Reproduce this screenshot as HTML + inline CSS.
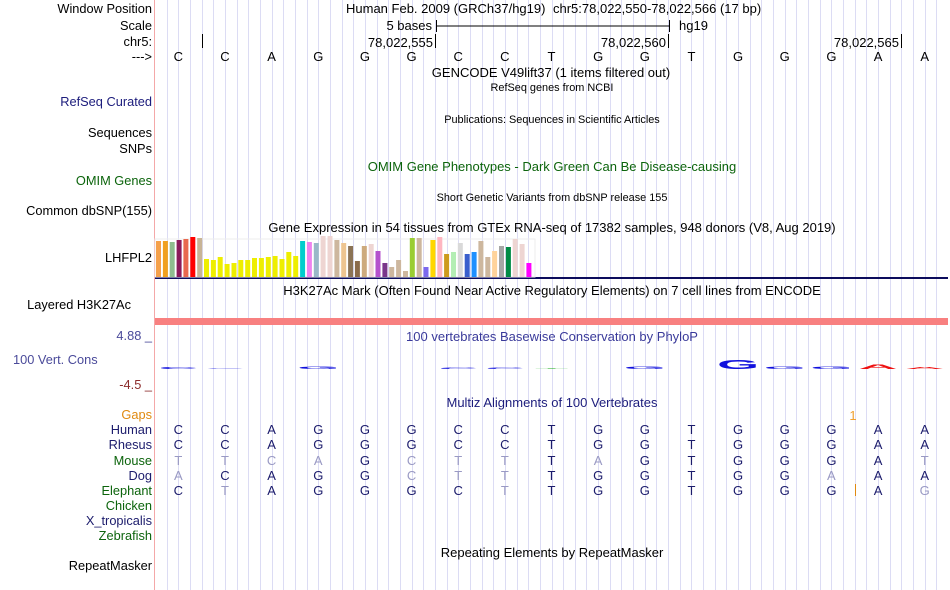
<!DOCTYPE html>
<html><head><meta charset="utf-8">
<style>
html,body{margin:0;padding:0;background:#fff;}
svg{display:block;font-family:"Liberation Sans",Arial,sans-serif;}
</style></head>
<body>
<svg id="c" width="950" height="590" viewBox="0 0 950 590" xmlns="http://www.w3.org/2000/svg">
<g id="grid"></g>
<line x1="154.5" y1="0" x2="154.5" y2="590" stroke="#f4a8a8" stroke-width="1"/>
<g font-size="12.8" fill="#000" text-anchor="end">
<text x="152" y="13">Window Position</text>
<text x="152" y="30">Scale</text>
<text x="152" y="46">chr5:</text>
<text x="152" y="61">---&gt;</text>
<text x="152" y="106" fill="#1c1c7c">RefSeq Curated</text>
<text x="152" y="137">Sequences</text>
<text x="152" y="153">SNPs</text>
<text x="152" y="185" fill="#0c640c">OMIM Genes</text>
<text x="152" y="215">Common dbSNP(155)</text>
<text x="152" y="262">LHFPL2</text>
<text x="131" y="309">Layered H3K27Ac</text>
<text x="152" y="340" fill="#4a4a9a">4.88 _</text>
<text x="13" y="364" text-anchor="start" fill="#4a4a9a">100 Vert. Cons</text>
<text x="152" y="389" fill="#8c2c2c">-4.5 _</text>
<text x="152" y="419" fill="#e08a10">Gaps</text>
<text x="152" y="434" fill="#1c1c6c">Human</text>
<text x="152" y="449" fill="#1c1c6c">Rhesus</text>
<text x="152" y="465" fill="#0c640c">Mouse</text>
<text x="152" y="480" fill="#1c1c6c">Dog</text>
<text x="152" y="495" fill="#0c640c">Elephant</text>
<text x="152" y="510" fill="#0c640c">Chicken</text>
<text x="152" y="525" fill="#1c1c6c">X_tropicalis</text>
<text x="152" y="540" fill="#0c640c">Zebrafish</text>
<text x="152" y="570">RepeatMasker</text>
</g>
<g font-size="13" fill="#000">
<text x="346" y="13">Human Feb. 2009 (GRCh37/hg19)</text>
<text x="553" y="13">chr5:78,022,550-78,022,566 (17 bp)</text>
<text x="432" y="30" text-anchor="end">5 bases</text>
<line x1="436" y1="26" x2="669" y2="26" stroke="#000"/>
<line x1="436.5" y1="20" x2="436.5" y2="32" stroke="#000"/>
<line x1="669.5" y1="20" x2="669.5" y2="32" stroke="#000"/>
<text x="679" y="30">hg19</text>
<line x1="202.5" y1="34" x2="202.5" y2="48" stroke="#000"/>
<text x="433" y="47" text-anchor="end">78,022,555</text>
<line x1="435.5" y1="34" x2="435.5" y2="48" stroke="#000"/>
<text x="666" y="47" text-anchor="end">78,022,560</text>
<line x1="668.5" y1="34" x2="668.5" y2="48" stroke="#000"/>
<text x="899" y="47" text-anchor="end">78,022,565</text>
<line x1="901.5" y1="34" x2="901.5" y2="48" stroke="#000"/>
<text x="551" y="77" text-anchor="middle">GENCODE V49lift37 (1 items filtered out)</text>
<text x="552" y="91" text-anchor="middle" font-size="10.9">RefSeq genes from NCBI</text>
<text x="552" y="123" text-anchor="middle" font-size="10.9">Publications: Sequences in Scientific Articles</text>
<text x="552" y="171" text-anchor="middle" fill="#0c640c">OMIM Gene Phenotypes - Dark Green Can Be Disease-causing</text>
<text x="552" y="201" text-anchor="middle" font-size="10.9">Short Genetic Variants from dbSNP release 155</text>
<text x="552" y="232" text-anchor="middle">Gene Expression in 54 tissues from GTEx RNA-seq of 17382 samples, 948 donors (V8, Aug 2019)</text>
<text x="552" y="295" text-anchor="middle">H3K27Ac Mark (Often Found Near Active Regulatory Elements) on 7 cell lines from ENCODE</text>
<text x="552" y="341" text-anchor="middle" fill="#3a3a9a">100 vertebrates Basewise Conservation by PhyloP</text>
<text x="552" y="407" text-anchor="middle" fill="#1c1c7c">Multiz Alignments of 100 Vertebrates</text>
<text x="552" y="557" text-anchor="middle">Repeating Elements by RepeatMasker</text>
<text x="853" y="420" text-anchor="middle" fill="#f0a030">1</text>
<line x1="855.5" y1="484" x2="855.5" y2="496" stroke="#e08a10"/>
</g>
<rect x="155" y="318" width="793" height="7" fill="#f88080"/>
<rect x="155" y="277" width="793" height="2" fill="#0c0c5c"/>
<rect x="155" y="239" width="380" height="38" fill="none" stroke="#eee"/>
<g id="gtex"></g>
<g id="bases" font-size="13" text-anchor="middle"></g>
<g id="cons" text-anchor="middle" font-weight="bold"></g>
</svg>
<script>
const seqHuman = "CCAGGGCCTGGTGGGAA";
const seqRhesus = "CCAGGGCCTGGTGGGAA";
const seqMouse = "TTCAGCTTTAGTGGGAT";
const seqDog = "ACAGGCTTTGGTGGAAA";
const seqElephant = "CTAGGGCTTGGTGGGAG";
const consValues = [0.8,0.3,0,1.2,0,0,0.6,0.5,0.2,0,1.2,0,4.5,1.2,1.2,2,1];
const gtexValues = [36,36,35,37,38,40,39,18,17,20,13,14,17,17,19,19,20,21,18,25,21,36,35,34,41,41,37,34,31,16,31,33,26,14,10,17,6,39,39,10,37,40,23,25,34,23,25,36,20,26,31,30,38,33,14];
const gtexColors = ["#f5a04a","#f0a020","#8fbc8f","#8b1a5a","#e8684e","#ff0000","#c8b496","#eeee00","#eeee00","#eeee00","#eeee00","#eeee00","#eeee00","#eeee00","#eeee00","#eeee00","#eeee00","#eeee00","#eeee00","#eeee00","#eeee00","#00cdcd","#ee82ee","#9ab8c8","#eed5d2","#eed5d2","#cdb79e","#eec591","#8b7355","#8b6b4a","#cdaa7d","#eed5d2","#b452cd","#7a378b","#cdb79e","#cdb79e","#cdb79e","#9acd32","#cdb79e","#7b68ee","#ffd700","#ffb6c1","#cd9b1d","#b4eeb4","#d9d9d9","#3a5fcd","#1e90ff","#cdb79e","#cdb79e","#ffd39b","#a6a6a6","#008b45","#eed5d2","#eed5d2","#ff00ff"];
const NS="http://www.w3.org/2000/svg";
const X0=155, X1=948, nB=17, bw=(X1-X0)/nB;
function bx(i){return X0+bw*(i+0.5);}
function mk(t,a,p){const e=document.createElementNS(NS,t);for(const k in a)e.setAttribute(k,a[k]);p.appendChild(e);return e;}
const g=document.getElementById('grid');
for(let k=1;k<nB*4;k++){const x=Math.round(X0+bw/4*k)+0.5;
 const l=mk('line',{x1:x,y1:0,x2:x,y2:590,stroke:'#dcdcf4','stroke-width':1},g);
 
 }
const gt=document.getElementById('gtex');
const gBase=277, gMax=41, gH=41, pitch=6.86;
function gy(v){return gBase-v/gMax*gH;}
gtexValues.forEach((v,i)=>{
 const r=mk('rect',{x:(X0+1+i*pitch).toFixed(1),y:gy(v).toFixed(1),width:5,height:(gBase-gy(v)).toFixed(1),fill:gtexColors[i]},gt);
 
 
});
const bs=document.getElementById('bases');
const dark="#1c1c6c", light="#9a9ac4";
for(let i=0;i<nB;i++){
 const t=mk('text',{x:bx(i),y:61,fill:'#000'},bs);t.textContent=seqHuman[i];
 
 
}
const rows=[[seqHuman,434],[seqRhesus,449],[seqMouse,465],[seqDog,480],[seqElephant,495]];
rows.forEach(([s,y])=>{
 for(let i=0;i<nB;i++){
  const t=mk('text',{x:bx(i),y:y,fill:s[i]===seqHuman[i]?dark:light},bs);t.textContent=s[i];
  
  
 }
});
const cg=document.getElementById('cons');
const cBase=369, cScale=10/4.5;
const baseCol={A:'#ee1111',C:'#1111dd',G:'#1111dd',T:'#11aa11'};
consValues.forEach((v,i)=>{
 if(v<=0)return;
 const h=v*cScale, sy=h/9, sx=36/8;
 const t=mk('text',{x:0,y:0,'font-size':12,fill:baseCol[seqHuman[i]],transform:`translate(${bx(i).toFixed(1)},${cBase}) scale(${sx.toFixed(2)},${sy.toFixed(3)})`},cg);
 t.textContent=seqHuman[i];
 
 
});
</script>
</body></html>
